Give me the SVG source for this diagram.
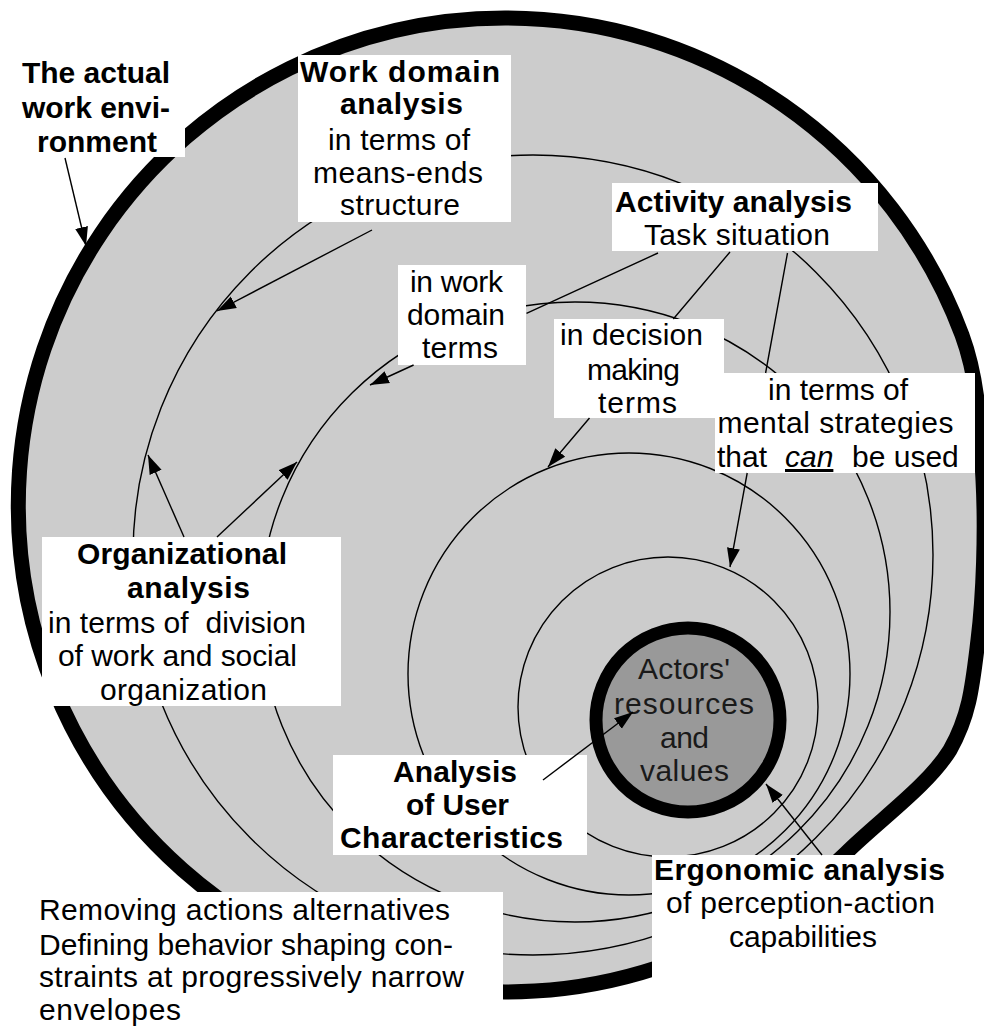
<svg xmlns="http://www.w3.org/2000/svg" width="984" height="1026" viewBox="0 0 984 1026">
<defs>
<style>
.ring{fill:#cccccc;stroke:#000;stroke-width:15}
.env{fill:none;stroke:#000;stroke-width:1.4}
.box{fill:#fff;stroke:none}
.b{font-family:"Liberation Sans",Arial,Helvetica,sans-serif;font-size:30px;font-weight:bold;fill:#000;text-anchor:middle}
.n{font-family:"Liberation Sans",Arial,Helvetica,sans-serif;font-size:30px;fill:#000;text-anchor:middle}
.l{font-family:"Liberation Sans",Arial,Helvetica,sans-serif;font-size:30px;fill:#000;text-anchor:start}
.d{font-family:"Liberation Sans",Arial,Helvetica,sans-serif;font-size:30px;fill:#1a1a1a;text-anchor:middle}
.con{fill:none;stroke:#000;stroke-width:1.4;marker-end:url(#ah)}
</style>
<marker id="ah" markerUnits="userSpaceOnUse" markerWidth="19" markerHeight="14" refX="19" refY="7" orient="auto"><path d="M0,0.5 L19,7 L0,13.5 z" fill="#000"/></marker>
</defs>
<rect x="0" y="0" width="984" height="1026" fill="#fff"/>
<g id="envelopes">
<path class="ring" d="M505,18 A487,487 0 0 1 962,335 C979,381 980,429 983,480 C985.7,530.8 983.5,595 978,640 C972.5,685 970,714.5 950,750 C928,785.5 880.7,819 846,853 A487,487 0 1 1 505,18 Z"/>
<circle class="env" cx="533" cy="555" r="400"/>
<ellipse class="env" cx="575" cy="612" rx="315" ry="310"/>
<circle class="env" cx="629" cy="674" r="221"/>
<circle class="env" cx="668" cy="707" r="150"/>
</g>
<g id="actors">
<circle cx="688" cy="720" r="92" fill="#999" stroke="#000" stroke-width="13"/>
<text class="d" x="684" y="679" textLength="92" lengthAdjust="spacing">Actors'</text>
<text class="d" x="684" y="714" textLength="140" lengthAdjust="spacing">resources</text>
<text class="d" x="684.5" y="748" textLength="49" lengthAdjust="spacing">and</text>
<text class="d" x="684.5" y="781" textLength="89" lengthAdjust="spacing">values</text>
</g>
<g id="work-environment">
<rect class="box" x="0" y="30" width="185" height="127"/>
<text class="b" x="96" y="83" textLength="148" lengthAdjust="spacing">The actual</text>
<text class="b" x="96" y="118" textLength="148" lengthAdjust="spacing">work envi-</text>
<text class="b" x="97" y="152" textLength="120" lengthAdjust="spacing">ronment</text>
</g>
<g id="work-domain">
<rect class="box" x="298" y="55" width="213" height="167"/>
<text class="b" x="400" y="82" textLength="200" lengthAdjust="spacing">Work domain</text>
<text class="b" x="401.5" y="114" textLength="123" lengthAdjust="spacing">analysis</text>
<text class="n" x="399" y="150" textLength="142" lengthAdjust="spacing">in terms of</text>
<text class="n" x="398" y="183" textLength="170" lengthAdjust="spacing">means-ends</text>
<text class="n" x="400" y="215" textLength="120" lengthAdjust="spacing">structure</text>
</g>
<g id="activity">
<rect class="box" x="612" y="183" width="266" height="68"/>
<text class="b" x="733.5" y="212" textLength="237" lengthAdjust="spacing">Activity analysis</text>
<text class="n" x="737" y="245" textLength="186" lengthAdjust="spacing">Task situation</text>
</g>
<g id="work-domain-terms">
<rect class="box" x="398" y="265" width="128" height="100"/>
<text class="n" x="456.5" y="292" textLength="93" lengthAdjust="spacing">in work</text>
<text class="n" x="456" y="325" textLength="98" lengthAdjust="spacing">domain</text>
<text class="n" x="460" y="358" textLength="76" lengthAdjust="spacing">terms</text>
</g>
<g id="decision-terms">
<rect class="box" x="554" y="319" width="170" height="99"/>
<text class="n" x="631.5" y="345" textLength="143" lengthAdjust="spacing">in decision</text>
<text class="n" x="633.5" y="380" textLength="93" lengthAdjust="spacing">making</text>
<text class="n" x="637.5" y="413" textLength="79" lengthAdjust="spacing">terms</text>
</g>
<g id="mental-strategies">
<rect class="box" x="715" y="373" width="260" height="100"/>
<text class="n" x="838" y="400" textLength="140" lengthAdjust="spacing">in terms of</text>
<text class="n" x="835.5" y="433" textLength="236" lengthAdjust="spacing">mental strategies</text>
<text class="l" y="467"><tspan x="717">that</tspan><tspan x="785" font-style="italic" text-decoration="underline">can</tspan><tspan x="852">be used</tspan></text>
</g>
<g id="organizational">
<rect class="box" x="42" y="537" width="299" height="169"/>
<text class="b" x="182" y="564" textLength="210" lengthAdjust="spacing">Organizational</text>
<text class="b" x="188.5" y="598" textLength="123" lengthAdjust="spacing">analysis</text>
<text class="n" x="177" y="633" textLength="258" lengthAdjust="spacing" xml:space="preserve">in terms of  division</text>
<text class="n" x="177.5" y="666" textLength="239" lengthAdjust="spacing">of work and social</text>
<text class="n" x="183.5" y="700" textLength="167" lengthAdjust="spacing">organization</text>
</g>
<g id="user-characteristics">
<rect class="box" x="333" y="755" width="254" height="100"/>
<text class="b" x="455" y="782" textLength="124" lengthAdjust="spacing">Analysis</text>
<text class="b" x="457.5" y="815" textLength="103" lengthAdjust="spacing">of User</text>
<text class="b" x="451.5" y="848" textLength="223" lengthAdjust="spacing">Characteristics</text>
</g>
<g id="ergonomic">
<rect class="box" x="652" y="855" width="332" height="171"/>
<text class="b" x="799.5" y="880" textLength="291" lengthAdjust="spacing">Ergonomic analysis</text>
<text class="n" x="800.5" y="913" textLength="269" lengthAdjust="spacing">of perception-action</text>
<text class="n" x="803" y="947" textLength="148" lengthAdjust="spacing">capabilities</text>
</g>
<g id="removing">
<rect class="box" x="0" y="892" width="503" height="134"/>
<text class="l" x="39" y="920" textLength="411" lengthAdjust="spacing">Removing actions alternatives</text>
<text class="l" x="39" y="955" textLength="414" lengthAdjust="spacing">Defining behavior shaping con-</text>
<text class="l" x="39" y="987" textLength="425" lengthAdjust="spacing">straints at progressively narrow</text>
<text class="l" x="39" y="1020" textLength="142" lengthAdjust="spacing">envelopes</text>
</g>
<g id="connectors">
<path class="con" d="M65,158 L86,246"/>
<path class="con" d="M372,230 L217,311"/>
<path class="con" d="M658,253 L526.5,313.3 M413.6,365 L370,385"/>
<path class="con" d="M730,252 L673.3,319 M589.5,418 L548,467"/>
<path class="con" d="M787.5,253 L765.6,373 M747.2,473 L730,567"/>
<path class="con" d="M184,537 L148,455"/>
<path class="con" d="M217,537 L297,462"/>
<path class="con" d="M543,780 L633,712"/>
<path class="con" d="M822,855 L766,784"/>
</g>
</svg>
